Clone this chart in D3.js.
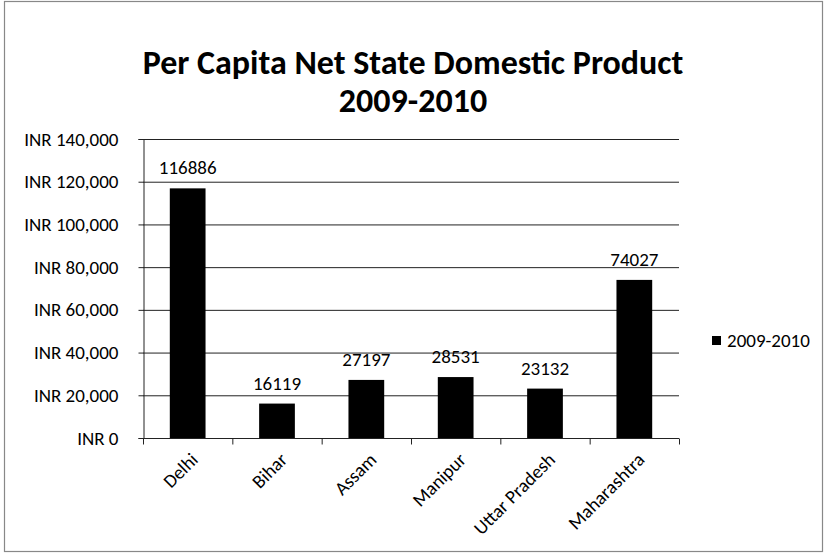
<!DOCTYPE html>
<html><head><meta charset="utf-8">
<script src="https://cdn.jsdelivr.net/npm/d3@7"></script>
<style>body{margin:0;background:#fff}svg{display:block}text{font-family:Carlito,Calibri,Lato,"Open Sans",sans-serif}</style>
</head><body>
<svg id="c" width="826" height="555"></svg>
<script>
const categories = ["Delhi","Bihar","Assam","Manipur","Uttar Pradesh","Maharashtra"];
const values2009_2010 = [116886,16119,27197,28531,23132,74027];
const yTicks = [0,20000,40000,60000,80000,100000,120000,140000];
const seriesName = "2009-2010";
const titleLines = ["Per Capita Net State Domestic Product","2009-2010"];

const svg = d3.select("#c");
const m = {l:143, r:679, t:139, b:438};
const FS = 19;

svg.append("rect").attr("x",4.5).attr("y",1.5).attr("width",818).attr("height",550)
  .attr("fill","#fff").attr("stroke","#888").attr("stroke-width",1.2);

const x = d3.scaleBand().domain(categories).range([m.l,m.r]).paddingInner(0.6).paddingOuter(0.3);
const xb = d3.scaleBand().domain(categories).range([m.l,m.r]);
const y = d3.scaleLinear().domain([0,140000]).range([m.b,m.t]);

// title
const tg = svg.append("g");
titleLines.forEach((t,i)=>{
  tg.append("text").attr("x",413).attr("y",74+i*38).attr("text-anchor","middle")
    .attr("font-size",30).attr("font-weight","bold").attr("fill","#000").text(t);
});
const tw = tg.select("text").node().getComputedTextLength();
tg.selectAll("text").attr("font-size", Math.min(34,30*548/tw));

// gridlines
svg.append("g").selectAll("line").data(yTicks.slice(1)).join("line")
  .attr("x1",m.l).attr("x2",m.r).attr("y1",d=>y(d)+0.5).attr("y2",d=>y(d)+0.5)
  .attr("stroke","#222").attr("stroke-width",1);

// y axis
const fmt = d3.format(",");
const ya = svg.append("g").attr("transform",`translate(${m.l+0.5},0)`)
  .call(d3.axisLeft(y).tickValues(yTicks).tickSize(5).tickPadding(20).tickFormat(d=>"INR "+fmt(d)));
ya.select(".domain").attr("stroke","#222");
ya.selectAll(".tick line").attr("stroke","#222");
ya.selectAll(".tick text").attr("font-size",FS).attr("fill","#000").attr("font-family","Carlito,Calibri,Lato,sans-serif");

// bars
svg.append("g").selectAll("rect").data(categories).join("rect")
  .attr("x",d=>x(d)).attr("width",x.bandwidth())
  .attr("y",(d,i)=>y(values2009_2010[i])).attr("height",(d,i)=>m.b-y(values2009_2010[i]))
  .attr("fill","#000");

// value labels
svg.append("g").selectAll("text").data(categories).join("text")
  .attr("x",d=>x(d)+x.bandwidth()/2).attr("y",(d,i)=>y(values2009_2010[i])-14)
  .attr("text-anchor","middle").attr("font-size",FS).attr("fill","#000")
  .text((d,i)=>values2009_2010[i]);

// x axis
const xg = svg.append("g").attr("transform",`translate(0,${m.b+0.5})`);
xg.append("line").attr("x1",m.l).attr("x2",m.r).attr("stroke","#222");
const bounds = [m.l, ...categories.map(c=>xb(c)+xb.bandwidth())];
xg.selectAll("line.tk").data(bounds).join("line").attr("class","tk")
  .attr("x1",d=>d+0.5).attr("x2",d=>d+0.5).attr("y1",0).attr("y2",6).attr("stroke","#222");
xg.selectAll("text").data(categories).join("text")
  .attr("transform",d=>`translate(${xb(d)+xb.bandwidth()/2+2},${13}) rotate(-45)`)
  .attr("text-anchor","end").attr("dy","0.7em").attr("font-size",FS).attr("fill","#000").text(d=>d);

// legend
const lg = svg.append("g");
lg.append("rect").attr("x",712).attr("y",336).attr("width",9).attr("height",9).attr("fill","#000");
lg.append("text").attr("x",727).attr("y",347).attr("font-size",FS).attr("fill","#000").text(seriesName);
</script>
</body></html>
